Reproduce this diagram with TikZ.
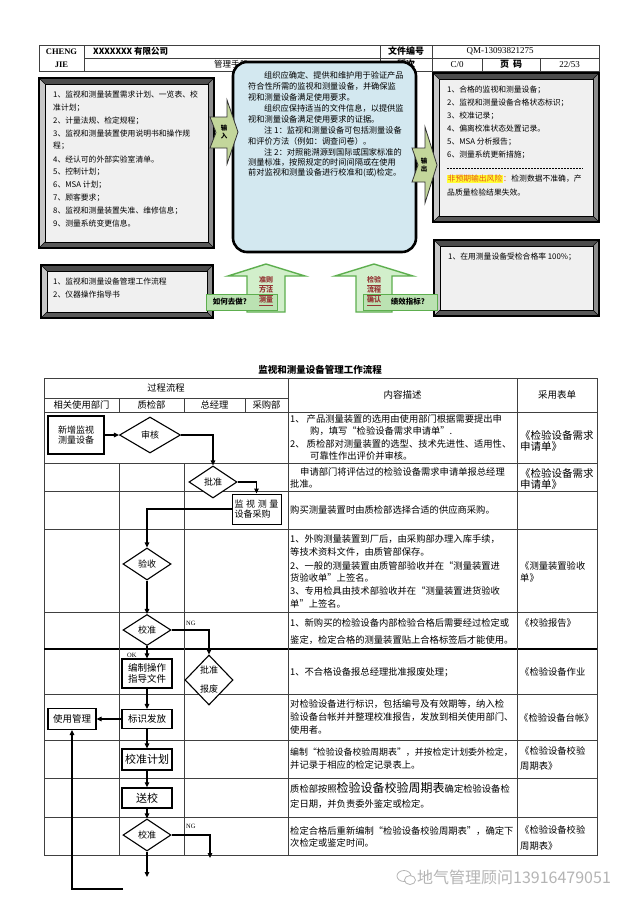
\documentclass[tikz,border=0pt]{standalone}
\usepackage{fontspec}
\setmainfont{Noto Sans CJK SC}
\newfontfamily\lserif{Liberation Serif}
\usetikzlibrary{shapes.geometric,arrows.meta}
\definecolor{boxblue}{HTML}{D3E8F0}
\definecolor{olivegr}{HTML}{C3D69B}
\definecolor{lgreen}{HTML}{D2EFCB}
\definecolor{dgreen}{HTML}{5DAE4E}
\definecolor{darkred}{HTML}{953735}
\definecolor{hlyellow}{HTML}{FFFF33}
\definecolor{riskred}{HTML}{E8541E}
\definecolor{gridc}{HTML}{404040}
\definecolor{wmgray}{HTML}{B4B4B4}
\newcommand\szA{\fontsize{7.8}{9}\selectfont}
\newcommand\szB{\fontsize{8.2}{10}\selectfont}
\newcommand\szC{\fontsize{9.3}{11}\selectfont}
\newcommand\szD{\fontsize{10.5}{12}\selectfont}
\newcommand\szE{\fontsize{9}{10.5}\selectfont}
\newcommand\bevbox[4]{%
  \fill[black!70] (#1,#2) -- (#3,#2) -- (#3-6,#2+6) -- (#1+6,#2+6) -- cycle;
  \fill[black!22] (#1,#2) -- (#1+6,#2+6) -- (#1+6,#4-6) -- (#1,#4) -- cycle;
  \fill[black!45] (#3,#2) -- (#3,#4) -- (#3-6,#4-6) -- (#3-6,#2+6) -- cycle;
  \fill[black!65] (#1,#4) -- (#3,#4) -- (#3-6,#4-6) -- (#1+6,#4-6) -- cycle;
  \draw[line width=0.5pt] (#1,#2) -- (#1+6,#2+6) (#3,#2) -- (#3-6,#2+6) (#1,#4) -- (#1+6,#4-6) (#3,#4) -- (#3-6,#4-6);
  \draw[line width=0.6pt, fill=black!6] (#1+6,#2+6) rectangle (#3-6,#4-6);
  \draw[line width=1.2pt] (#1,#2) rectangle (#3,#4);
}
\begin{document}
\begin{tikzpicture}[x=1pt,y=-1pt,
  hdr/.style={line width=0.6pt, draw=gridc},
  grid/.style={line width=0.7pt, draw=gridc},
  txt/.style={anchor=west, inner sep=0pt},
  ctr/.style={inner sep=0pt},
  flow/.style={line width=1.1pt, -{Triangle[length=5pt,width=4.5pt]}},
  dia/.style={diamond, draw, line width=1.1pt, fill=white, inner sep=0pt, font=\szE, align=center},
  fbox/.style={rectangle, draw, line width=1.1pt, fill=white, inner sep=0pt, font=\szE, align=center},
  ioarrow/.style={fill=olivegr, draw=black!80, line width=0.8pt},
  uparrow/.style={fill=lgreen, draw=dgreen, line width=1.4pt},
  lbl/.style={fill=lgreen!80!dgreen, draw=dgreen, line width=1pt},
  redlab/.style={inner sep=0pt, text=darkred, font=\bfseries\fontsize{7}{8}\selectfont},
]
\useasboundingbox (0,0) rectangle (640,905);
\fill[white] (0,0) rectangle (640,905);

% ---------- header table ----------
\draw[hdr] (39,45) rectangle (599,71);
\draw[hdr] (84,58) -- (599,58);
\draw[hdr] (84,45) -- (84,71);
\draw[hdr] (380,45) -- (380,71);
\draw[hdr] (432,45) -- (432,71);
\draw[hdr] (482,58) -- (482,71);
\draw[hdr] (540,58) -- (540,71);
\node[ctr,font=\lserif\bfseries\fontsize{8.5}{10}\selectfont] (h1) at (61.5,51.5) {CHENG};
\node[ctr,font=\lserif\bfseries\fontsize{8.5}{10}\selectfont] (h2) at (61.5,64.5) {JIE};
\node[txt,font=\bfseries\fontsize{8.5}{10}\selectfont] (h3) at (93,51.5) {XXXXXXX 有限公司};
\node[ctr,font=\bfseries\fontsize{9}{10}\selectfont] (h4) at (406,51.5) {文件编号};
\node[ctr,font=\lserif\fontsize{9}{10}\selectfont] (h5) at (500,51.5) {QM-13093821275};
\node[txt,font=\fontsize{8.5}{10}\selectfont] (h6) at (214,64.5) {管理手册};
\node[ctr,font=\bfseries\fontsize{9}{10}\selectfont] (h7) at (406,64.5) {版次};
\node[ctr,font=\lserif\fontsize{9}{10}\selectfont] (h8) at (457,64.5) {C/0};
\node[ctr,font=\bfseries\fontsize{9}{10}\selectfont] (h9) at (511,64.5) {页\hspace{4pt}码};
\node[ctr,font=\lserif\fontsize{9}{10}\selectfont] (h10) at (569.5,64.5) {22/53};

% ---------- bevel boxes ----------
\bevbox{39}{78}{214}{248}
\bevbox{433}{73}{599}{222}
\bevbox{434}{240}{599}{316}
\bevbox{41}{265}{213}{318}

\node[txt,font=\szA] (L1) at (53,95) {1、监视和测量装置需求计划、一览表、校};
\node[txt,font=\szA] (L2) at (53,108) {准计划；};
\node[txt,font=\szA] (L3) at (53,121) {2、计量法规、检定规程；};
\node[txt,font=\szA] (L4) at (53,134) {3、监视和测量装置使用说明书和操作规};
\node[txt,font=\szA] (L5) at (53,146) {程；};
\node[txt,font=\szA] (L6) at (53,159) {4、经认可的外部实验室清单。};
\node[txt,font=\szA] (L7) at (53,172) {5、控制计划；};
\node[txt,font=\szA] (L8) at (53,185) {6、MSA 计划；};
\node[txt,font=\szA] (L9) at (53,198) {7、顾客要求；};
\node[txt,font=\szA] (L10) at (53,211) {8、监视和测量装置失准、维修信息；};
\node[txt,font=\szA] (L11) at (53,224) {9、测量系统变更信息。};

\node[txt,font=\szA] (R1) at (447,90) {1、合格的监视和测量设备；};
\node[txt,font=\szA] (R2) at (447,103) {2、监视和测量设备合格状态标识；};
\node[txt,font=\szA] (R3) at (447,116) {3、校准记录；};
\node[txt,font=\szA] (R4) at (447,129) {4、偏离校准状态处置记录。};
\node[txt,font=\szA] (R5) at (447,142) {5、MSA 分析报告；};
\node[txt,font=\szA] (R6) at (447,155) {6、测量系统更新措施；};
\draw[line width=0.5pt, dash pattern=on 2pt off 1pt] (447,168) -- (583,168);
\node[txt,font=\szA,fill=hlyellow,text=riskred,inner sep=0.5pt] (R7) at (447,179) {非预期输出风险};
\node[txt,font=\szA,text=riskred] (R7b) at (R7.east) {：};
\node[txt,font=\szA] (R7c) at (R7b.east) {检测数据不准确，产};
\node[txt,font=\szA] (R8) at (447,193) {品质量检验结果失效。};

\node[txt,font=\szA] (RB1) at (448,257) {1、在用测量设备受检合格率 100\%；};

\node[txt,font=\szA] (LB1) at (53,282) {1、监视和测量设备管理工作流程};
\node[txt,font=\szA] (LB2) at (53,295) {2、仪器操作指导书};

% ---------- center box ----------
\draw[line width=2.6pt, fill=boxblue, rounded corners=14pt] (233,62) rectangle (416,252);
\node[txt,font=\szB] (C1) at (264,75) {组织应确定、提供和维护用于验证产品};
\node[txt,font=\szB] (C2) at (248,86) {符合性所需的监视和测量设备，并确保监};
\node[txt,font=\szB] (C3) at (248,97) {视和测量设备满足使用要求。};
\node[txt,font=\szB] (C4) at (264,108) {组织应保持适当的文件信息，以提供监};
\node[txt,font=\szB] (C5) at (248,119) {视和测量设备满足使用要求的证据。};
\node[txt,font=\szB] (C6) at (264,130) {注 1：监视和测量设备可包括测量设备};
\node[txt,font=\szB] (C7) at (248,141) {和评价方法（例如：调查问卷）。};
\node[txt,font=\szB] (C8) at (264,152) {注 2：对照能溯源到国际或国家标准的};
\node[txt,font=\szB] (C9) at (248,162) {测量标准，按照规定的时间间隔或在使用};
\node[txt,font=\szB] (C10) at (248,173) {前对监视和测量设备进行校准和(或)检定。};

% ---------- input / output arrows ----------
\draw[ioarrow] (210,117) -- (227,117) -- (227,100) -- (238,132) -- (227,164) -- (227,148) -- (210,148) -- (216,132.5) -- cycle;
\node[ctr,font=\bfseries\fontsize{6.5}{8}\selectfont,align=center] (inA) at (224,132) {输\\入};
\draw[ioarrow] (412,148) -- (425,148) -- (425,127) -- (437,165) -- (425,203) -- (425,182) -- (412,182) -- (418,165) -- cycle;
\node[ctr,font=\bfseries\fontsize{6.5}{8}\selectfont,align=center] (outA) at (424,165) {输\\出};

% ---------- up arrows ----------
\draw[uparrow] (266,264) -- (305,276) -- (285,276) -- (285,312) -- (247,312) -- (247,276) -- (228,276) -- cycle;
\draw[uparrow] (374,264) -- (413,276) -- (392,276) -- (392,312) -- (356,312) -- (356,276) -- (335,276) -- cycle;
\draw[lbl] (206,294) rectangle (277,310);
\draw[lbl] (363,294) rectangle (437,310);
\node[ctr,font=\bfseries\fontsize{7.5}{9}\selectfont] (how) at (230,302) {如何去做?};
\node[ctr,font=\bfseries\fontsize{7.5}{9}\selectfont] (kpi) at (408,302) {绩效指标?};
\node[redlab] (a1) at (266,281) {\underline{准则}};
\node[redlab] (a2) at (266,291) {\underline{方法}};
\node[redlab] (a3) at (266,301) {\underline{测量}};
\node[redlab] (b1) at (374,281) {\underline{检验}};
\node[redlab] (b2) at (374,291) {\underline{流程}};
\node[redlab] (b3) at (374,301) {\underline{确认}};

% ---------- flow table ----------
\node[ctr,font=\bfseries\fontsize{9.5}{11}\selectfont] (title) at (320,370) {监视和测量设备管理工作流程};
\draw[grid] (44,378) rectangle (597,855);
\draw[grid] (44,398) -- (288,398);
\foreach \yy in {412,463,491,529,612,694,740,778,817} \draw[grid] (44,\yy) -- (597,\yy);
\draw[line width=1.5pt] (44,649) -- (597,649);
\draw[grid] (288,378) -- (288,855);
\draw[grid] (517,378) -- (517,855);
\draw[grid] (119,398) -- (119,412) (184,398) -- (184,412) (245,398) -- (245,412);
\draw[grid] (119,463) -- (119,855) (184,463) -- (184,855);

\node[ctr,font=\szC] (t1) at (166,388) {过程流程};
\node[ctr,font=\szC] (t2) at (81.5,405) {相关使用部门};
\node[ctr,font=\szC] (t3) at (151.5,405) {质检部};
\node[ctr,font=\szC] (t4) at (214.5,405) {总经理};
\node[ctr,font=\szC] (t5) at (266.5,405) {采购部};
\node[ctr,font=\fontsize{9.5}{11}\selectfont] (t6) at (402.5,395) {内容描述};
\node[ctr,font=\fontsize{9.5}{11}\selectfont] (t7) at (557,395) {采用表单};

% content column
\node[txt,font=\szC] (k1a) at (290,419) {1、 产品测量装置的选用由使用部门根据需要提出申};
\node[txt,font=\szC] (k1b) at (310,431) {购，填写“检验设备需求申请单”.};
\node[txt,font=\szC] (k1c) at (290,444) {2、 质检部对测量装置的选型、技术先进性、适用性、};
\node[txt,font=\szC] (k1d) at (310,456) {可靠性作出评价并审核。};
\node[txt,font=\szC] (k2a) at (300,472) {申请部门将评估过的检验设备需求申请单报总经理};
\node[txt,font=\szC] (k2b) at (290,484) {批准。};
\node[txt,font=\szC] (k3a) at (290,510) {购买测量装置时由质检部选择合适的供应商采购。};
\node[txt,font=\szC] (k4a) at (290,539) {1、外购测量装置到厂后，由采购部办理入库手续，};
\node[txt,font=\szC] (k4b) at (290,552) {等技术资料文件，由质管部保存。};
\node[txt,font=\szC] (k4c) at (290,566) {2、一般的测量装置由质管部验收并在“测量装置进};
\node[txt,font=\szC] (k4d) at (290,578) {货验收单”上签名。};
\node[txt,font=\szC] (k4e) at (290,591) {3、专用检具由技术部验收并在“测量装置进货验收};
\node[txt,font=\szC] (k4f) at (290,604) {单”上签名。};
\node[txt,font=\szC] (k5a) at (290,623) {1、新购买的检验设备内部检验合格后需要经过检定或};
\node[txt,font=\szC] (k5b) at (290,640) {鉴定，检定合格的测量装置贴上合格标签后才能使用。};
\node[txt,font=\szC] (k6a) at (290,672) {1、不合格设备报总经理批准报废处理；};
\node[txt,font=\szC] (k7a) at (290,704) {对检验设备进行标识，包括编号及有效期等，纳入检};
\node[txt,font=\szC] (k7b) at (290,717) {验设备台帐并并整理校准报告，发放到相关使用部门、};
\node[txt,font=\szC] (k7c) at (290,730) {使用者。};
\node[txt,font=\fontsize{8.9}{11}\selectfont] (k8a) at (290,752) {编制“检验设备校验周期表”，并按检定计划委外检定，};
\node[txt,font=\szC] (k8b) at (290,765) {并记录于相应的检定记录表上。};
\node[txt,font=\szC] (k9a) at (290,788) {质检部按照{\fontsize{12}{13}\selectfont 检验设备校验周期表}确定检验设备检};
\node[txt,font=\szC] (k9b) at (290,804) {定日期，并负责委外鉴定或检定。};
\node[txt,font=\szC] (k10a) at (290,831) {检定合格后重新编制“检验设备校验周期表”，确定下};
\node[txt,font=\szC] (k10b) at (290,843) {次检定或鉴定时间。};

% forms column
\node[txt,font=\szD] (f1a) at (520,435) {《检验设备需求};
\node[txt,font=\szD] (f1b) at (520,447) {申请单》};
\node[txt,font=\szD] (f2a) at (520,473) {《检验设备需求};
\node[txt,font=\szD] (f2b) at (520,485) {申请单》};
\node[txt,font=\szC] (f4a) at (520,566) {《测量装置验收};
\node[txt,font=\szC] (f4b) at (520,578) {单》};
\node[txt,font=\szC] (f5a) at (520,623) {《校验报告》};
\node[txt,font=\szC] (f6a) at (520,672) {《检验设备作业};
\node[txt,font=\szC] (f7a) at (519,718) {《检验设备台帐》};
\node[txt,font=\szC] (f8a) at (520,751) {《检验设备校验};
\node[txt,font=\szC] (f8b) at (520,766) {周期表》};
\node[txt,font=\szC] (f10a) at (520,830) {《检验设备校验};
\node[txt,font=\szC] (f10b) at (520,846) {周期表》};

% flow nodes
\node[fbox, minimum width=56pt, minimum height=38pt, line width=1.6pt] (n1) at (76,435) {新增监视\\测量设备};
\node[dia, minimum width=61pt, minimum height=36pt] (d1) at (150,435) {审核};
\node[dia, minimum width=48pt, minimum height=32pt] (d2) at (213,482) {批准};
\node[fbox, minimum width=49pt, minimum height=30pt, line width=0.9pt, align=left] (n2) at (256.5,509) {\makebox[44pt][s]{监\hfil 视\hfil 测\hfil 量}\\设备采购};
\node[dia, minimum width=48pt, minimum height=32pt] (d3) at (147,564) {验收};
\node[dia, minimum width=48pt, minimum height=31pt] (d4) at (147,630) {校准};
\node[fbox, minimum width=50pt, minimum height=29pt, font=\fontsize{9.5}{11}\selectfont] (n3) at (147,673.5) {编制操作\\指导文件};
\node[dia, minimum width=48pt, minimum height=50pt, font=\fontsize{9}{19}\selectfont] (d5) at (209,680) {批准\\报废};
\node[fbox, minimum width=50pt, minimum height=19pt, font=\fontsize{9.5}{11}\selectfont] (n4) at (147,719) {标识发放};
\node[fbox, minimum width=48pt, minimum height=21pt, font=\fontsize{9.5}{11}\selectfont] (n5) at (72,719) {使用管理};
\node[fbox, minimum width=50pt, minimum height=21pt, font=\fontsize{11}{12}\selectfont] (n6) at (147,759.5) {校准计划};
\node[fbox, minimum width=50pt, minimum height=20pt, line width=1.5pt, font=\fontsize{11}{12}\selectfont] (n7) at (147,798) {送校};
\node[dia, minimum width=48pt, minimum height=32pt] (d6) at (147,835) {校准};
\coordinate (c1) at (210,858);
\coordinate (c2) at (147,877);
\coordinate (c3) at (123,889);

\draw[flow] (n1.east) -- (d1.west);
\draw[flow] (d1.east) -| (d2.north);
\draw[flow] (d2.east) -| (n2.north);
\draw[flow] (n2.west) -| (d3.north);
\draw[flow] (d3.south) -- (d4.north);
\draw[flow] (d4.east) -| (d5.north);
\draw[flow] (d4.south) -- (n3.north);
\draw[flow] (n3.south) -- (n4.north);
\draw[flow] (n4.west) -- (n5.east);
\draw[flow] (n4.south) -- (n6.north);
\draw[flow] (n6.south) -- (n7.north);
\draw[flow] (n7.south) -- (d6.north);
\draw[flow] (d6.east) -| (c1);
\draw[flow] (d6.south) -- (c2);
\draw[flow] (c3) -| (n5.south);

\node[txt,font=\lserif\fontsize{6.5}{7}\selectfont] (ng1) at (186,623) {NG};
\node[txt,font=\lserif\fontsize{6.5}{7}\selectfont] (ng2) at (186,826) {NG};
\node[txt,font=\lserif\fontsize{6.5}{7}\selectfont] (ok1) at (127,655) {OK};

% watermark
\draw[wmgray, line width=0.8pt] (404,876) ellipse (7pt and 5.5pt);
\draw[wmgray, fill=white, line width=0.8pt] (410,880) ellipse (5.5pt and 4.5pt);
\node[txt, text=wmgray, font=\fontsize{16}{18}\selectfont] (wm) at (417,877) {地气管理顾问13916479051};
\end{tikzpicture}
\end{document}
